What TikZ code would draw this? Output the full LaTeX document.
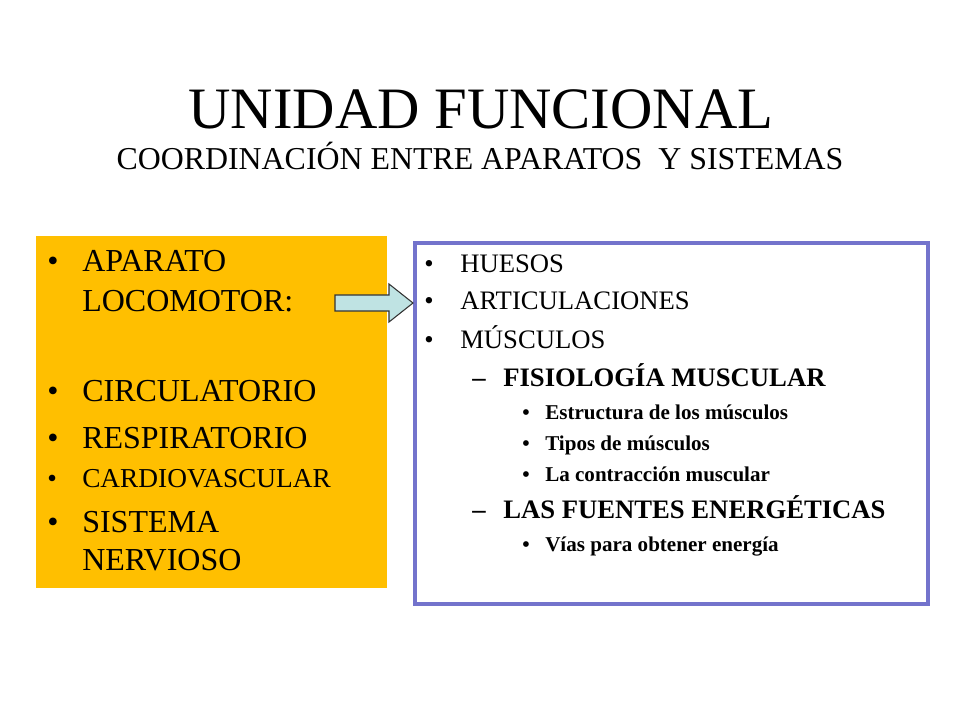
\documentclass[tikz,border=0pt]{standalone}
\usepackage{fontspec}
\setmainfont{Liberation Serif}
\definecolor{gold}{HTML}{FFBF00}
\definecolor{frame}{HTML}{7373CC}
\definecolor{arr}{HTML}{BFE3E3}
\begin{document}
\begin{tikzpicture}[x=0.75pt,y=-0.75pt,
  t/.style={anchor=base west,inner sep=0pt},
  L/.style={t,font=\fontsize{24}{28}\selectfont},
  R/.style={t,font=\fontsize{20}{23}\selectfont},
  F/.style={t,font=\fontsize{20}{23}\selectfont\bfseries},
  S/.style={t,font=\fontsize{15.8}{18}\selectfont\bfseries}]
\useasboundingbox (0,0) rectangle (960,720);
\node[anchor=base,inner sep=0pt,font=\fontsize{44}{48}\selectfont] (title) at (481,129) {UNIDAD FUNCIONAL};
\node[anchor=base,inner sep=0pt,font=\fontsize{23.9}{27}\selectfont] (sub) at (480,170) {COORDINACIÓN ENTRE APARATOS\ \ Y SISTEMAS};
\fill[gold] (36,236) rectangle (387,588);
\draw[frame,line width=3pt] (415,243) rectangle (928,604);
\foreach \y/\s in {272/APARATO,311/LOCOMOTOR:,401/CIRCULATORIO,448/RESPIRATORIO,532/SISTEMA,570/NERVIOSO}
  \node[L] at (82,\y) {\s};
\foreach \y in {272,401,448,532} \node[L] at (47,\y) {•};
\node[t,font=\fontsize{20.5}{24}\selectfont] at (47,487) {•};
\node[t,font=\fontsize{20.5}{24}\selectfont] (cardio) at (82,487) {CARDIOVASCULAR};
\foreach \y/\s in {273/HUESOS,310/ARTICULACIONES,349/MÚSCULOS}{
  \node[R] at (460,\y) {\s}; \node[R] at (424,\y) {•};}
\node[F] at (472,386) {–}; \node[F] (fis) at (503,386) {FISIOLOGÍA MUSCULAR};
\node[F] at (472,518) {–}; \node[F] (las) at (503,518) {LAS FUENTES ENERGÉTICAS};
\foreach \y/\s in {419/Estructura\ de los músculos,450/Tipos de músculos,481/La contracción muscular,551/Vías para obtener energía}{
  \node[S] at (545,\y) {\s}; \node[S] at (522,\y) {•};}
\draw[fill=arr,draw=black!80,line width=0.8pt] (335,295)--(389,295)--(389,284)--(413,303)--(389,322)--(389,311)--(335,311)--cycle;
\end{tikzpicture}
\end{document}
